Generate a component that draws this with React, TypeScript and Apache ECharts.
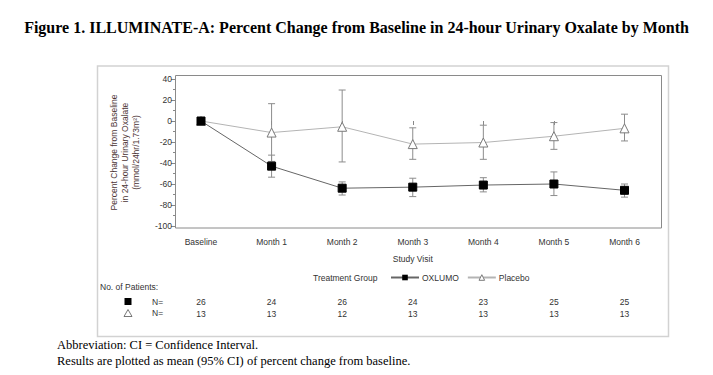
import React, { useEffect, useRef } from "react";
import * as echarts from "echarts";

const categories = ["Baseline", "Month 1", "Month 2", "Month 3", "Month 4", "Month 5", "Month 6"];
const oxlumoMean = [0, -43, -64, -63, -61, -60, -66];
const oxlumoLow = [null, -53.5, -70.5, -72, -67.5, -71, -72.5];
const oxlumoHigh = [null, -32.5, -58, -54.5, -54, -48.5, -60];
const placeboMean = [0, -11, -5.5, -22, -20.5, -14.5, -7];
const placeboLow = [null, -38.5, -39, -36.5, -36.5, -27, -19];
const placeboHigh = [null, 16.5, 29.5, -6.5, -4, -1.5, 6.5];
const oxlumoN = [26, 24, 26, 24, 23, 25, 25];
const placeboN = [13, 13, 12, 13, 13, 13, 13];

const SANS = "'Liberation Sans', Arial, sans-serif";
const SERIF = "'Liberation Serif', 'Times New Roman', serif";
const TXT = "#333";

function errorData(low: (number | null)[], high: (number | null)[]) {
  const out: number[][] = [];
  low.forEach((l, i) => {
    const h = high[i];
    if (l !== null && h !== null) out.push([i, l, h]);
  });
  return out;
}

function errorSeries(name: string, low: (number | null)[], high: (number | null)[]) {
  return {
    type: "custom",
    name: name + " CI",
    z: 1,
    silent: true,
    data: errorData(low, high),
    encode: { x: 0, y: [1, 2] },
    renderItem: (params: any, api: any) => {
      const x = api.value(0);
      const lo = api.coord([x, api.value(1)]);
      const hi = api.coord([x, api.value(2)]);
      const w = 3.5;
      const style = { stroke: "#8c8c8c", lineWidth: 1 };
      return {
        type: "group",
        children: [
          { type: "line", shape: { x1: lo[0], y1: lo[1], x2: hi[0], y2: hi[1] }, style },
          { type: "line", shape: { x1: lo[0] - w, y1: lo[1], x2: lo[0] + w, y2: lo[1] }, style },
          { type: "line", shape: { x1: hi[0] - w, y1: hi[1], x2: hi[0] + w, y2: hi[1] }, style },
        ],
      };
    },
  };
}

function countAxis(counts: number[], offset: number) {
  return {
    type: "category",
    data: categories,
    boundaryGap: false,
    position: "bottom",
    offset,
    axisLine: { show: false },
    axisTick: { show: false },
    axisLabel: {
      margin: 0,
      fontSize: 8.5,
      fontFamily: SANS,
      color: TXT,
      interval: 0,
      formatter: (_v: string, i: number) => String(counts[i]),
    },
  };
}

export default function App() {
  const ref = useRef<HTMLDivElement>(null);
  useEffect(() => {
    if (!ref.current) return;
    const chart = echarts.init(ref.current, null, { renderer: "svg" });
    chart.setOption({
      animation: false,
      backgroundColor: "#fff",
      grid: { left: 201, right: 88.5, top: 79, bottom: 149 },
      xAxis: [
        {
          type: "category",
          data: categories,
          boundaryGap: false,
          offset: 2,
          axisLine: { show: false },
          axisTick: { show: true, length: 4, lineStyle: { color: "#888" }, interval: 0 },
          axisLabel: { margin: 9, fontSize: 8.5, fontFamily: SANS, color: TXT, interval: 0 },
          name: "Study Visit",
          nameLocation: "middle",
          nameGap: 26,
          nameTextStyle: { fontSize: 8.5, fontFamily: SANS, color: TXT },
          splitLine: { show: false },
        },
        countAxis(oxlumoN, 71),
        countAxis(placeboN, 83),
      ],
      yAxis: {
        type: "value",
        min: -100,
        max: 40,
        interval: 20,
        offset: 26,
        axisLine: { show: false },
        axisTick: { show: true, length: 4, lineStyle: { color: "#888" } },
        minorTick: { show: true, splitNumber: 2, length: 2, lineStyle: { color: "#888" } },
        splitLine: { show: false },
        axisLabel: { margin: 3, fontSize: 8.5, fontFamily: SANS, color: TXT },
        name: "Percent Change from Baseline\nin 24-hour Urinary Oxalate\n(mmol/24hr/1.73m²)",
        nameLocation: "middle",
        nameRotate: 90,
        nameGap: 34,
        nameTextStyle: { fontSize: 8.5, fontFamily: SANS, color: "#4d3636", lineHeight: 11, align: "center" },
      },
      legend: {
        left: 385,
        top: 268,
        itemWidth: 28,
        itemHeight: 7,
        itemGap: 8,
        textStyle: { fontSize: 8.5, fontFamily: SANS, color: TXT, padding: [0, 0, 0, -2] },
        data: [
          { name: "OXLUMO", itemStyle: { color: "#000", borderColor: "#000" } },
          { name: "Placebo", itemStyle: { color: "#fff", borderColor: "#7a7a7a", borderWidth: 1 } },
        ],
        selectedMode: false,
      },
      series: [
        errorSeries("Placebo", placeboLow, placeboHigh),
        errorSeries("OXLUMO", oxlumoLow, oxlumoHigh),
        {
          type: "line",
          name: "Placebo",
          data: placeboMean,
          z: 2,
          symbol: "triangle",
          symbolSize: 9,
          lineStyle: { color: "#b4b4b4", width: 1 },
          itemStyle: { color: "#fff", borderColor: "#7a7a7a", borderWidth: 1 },
        },
        {
          type: "line",
          name: "OXLUMO",
          data: oxlumoMean,
          z: 3,
          symbol: "rect",
          symbolSize: 8,
          lineStyle: { color: "#666", width: 1 },
          itemStyle: { color: "#000", borderColor: "#000" },
        },
      ],
      graphic: [
        {
          type: "text",
          x: 356.5,
          y: 27,
          style: {
            text: "Figure 1. ILLUMINATE-A: Percent Change from Baseline in 24-hour Urinary Oxalate by Month",
            font: "bold 16px " + SERIF,
            fill: "#000",
            align: "center",
            verticalAlign: "middle",
          },
        },
        {
          type: "rect",
          shape: { x: 97.5, y: 66, width: 571, height: 270.5 },
          style: { fill: "none", stroke: "#d2d2d2", lineWidth: 1.5 },
          z: 0,
        },
        {
          type: "rect",
          shape: { x: 175.5, y: 75.5, width: 486, height: 152.5 },
          style: { fill: "none", stroke: "#8a8a8a", lineWidth: 1 },
          z: 0,
        },
        {
          type: "text",
          x: 313,
          y: 277.5,
          style: { text: "Treatment Group", font: "8.5px " + SANS, fill: TXT, verticalAlign: "middle" },
        },
        {
          type: "text",
          x: 100,
          y: 287,
          style: { text: "No. of Patients:", font: "8.5px " + SANS, fill: TXT, verticalAlign: "middle" },
        },
        {
          type: "rect",
          shape: { x: 124.5, y: 298, width: 7, height: 7 },
          style: { fill: "#000" },
        },
        {
          type: "polygon",
          shape: { points: [[128, 309.5], [132, 316.5], [124, 316.5]] },
          style: { fill: "#fff", stroke: "#555", lineWidth: 0.8 },
        },
        {
          type: "text",
          x: 152,
          y: 301.7,
          style: { text: "N=", font: "8.5px " + SANS, fill: TXT, verticalAlign: "middle" },
        },
        {
          type: "text",
          x: 152,
          y: 313.3,
          style: { text: "N=", font: "8.5px " + SANS, fill: TXT, verticalAlign: "middle" },
        },
        {
          type: "text",
          x: 57,
          y: 345,
          style: { text: "Abbreviation: CI = Confidence Interval.", font: "12.5px " + SERIF, fill: "#000", verticalAlign: "middle" },
        },
        {
          type: "text",
          x: 57,
          y: 361,
          style: {
            text: "Results are plotted as mean (95% CI) of percent change from baseline.",
            font: "12.5px " + SERIF,
            fill: "#000",
            verticalAlign: "middle",
          },
        },
      ],
    });
    return () => chart.dispose();
  }, []);
  return <div ref={ref} style={{ position: "fixed", left: 0, top: 0, width: 713, height: 375 }} />;
}
